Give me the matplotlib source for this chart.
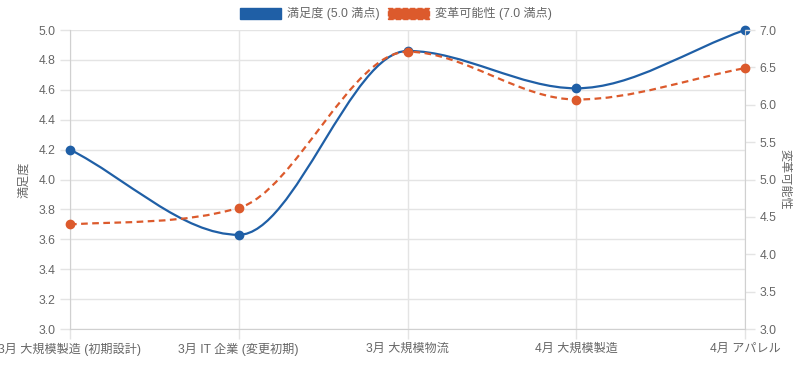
import numpy as np
import matplotlib.pyplot as plt
from matplotlib.path import Path
from matplotlib.patches import PathPatch, Patch

plt.rcParams['font.family'] = ['Liberation Sans', 'Noto Sans CJK JP', 'DejaVu Sans']

categories = ["3月 大規模製造 (初期設計)", "3月 IT 企業 (変更初期)", "3月 大規模物流",
              "4月 大規模製造", "4月 アパレル"]
satisfaction = [4.2, 3.63, 4.86, 4.61, 5.0]
changeability = [4.4, 4.62, 6.71, 6.07, 6.49]

BLUE = "#1f5fa6"
ORANGE = "#dc5a2c"
GRID = "#e4e4e4"
TEXT = "#666666"


def monotone_path(xs, ys):
    # monotone cubic (Fritsch-Carlson) as bezier segments
    xs = np.asarray(xs, float)
    ys = np.asarray(ys, float)
    n = len(xs)
    dk = np.diff(ys) / np.diff(xs)
    mk = np.zeros(n)
    mk[0], mk[-1] = dk[0], dk[-1]
    for i in range(1, n - 1):
        if np.sign(dk[i - 1]) != np.sign(dk[i]):
            mk[i] = 0
        else:
            mk[i] = (dk[i - 1] + dk[i]) / 2
    for i in range(n - 1):
        if dk[i] == 0:
            mk[i] = mk[i + 1] = 0
            continue
        a = mk[i] / dk[i]
        b = mk[i + 1] / dk[i]
        mag = a * a + b * b
        if mag > 9:
            tau = 3 / np.sqrt(mag)
            mk[i] = a * tau * dk[i]
            mk[i + 1] = b * tau * dk[i]
    verts = [(xs[0], ys[0])]
    codes = [Path.MOVETO]
    for i in range(1, n):
        dx = (xs[i] - xs[i - 1]) / 3
        verts += [(xs[i - 1] + dx, ys[i - 1] + dx * mk[i - 1]),
                  (xs[i] - dx, ys[i] - dx * mk[i]),
                  (xs[i], ys[i])]
        codes += [Path.CURVE4] * 3
    return Path(verts, codes)


fig = plt.figure(figsize=(7.96, 3.67), dpi=100)
ax = fig.add_axes([70 / 796, 38 / 367, 675 / 796, 299 / 367])
ax2 = ax.twinx()

x = np.arange(len(categories))

ax.set_xlim(0, len(categories) - 1)
ax.set_ylim(3.0, 5.0)
ax2.set_ylim(3.0, 7.0)
ax.set_yticks(np.arange(3.0, 5.01, 0.2))
ax2.set_yticks(np.arange(3.0, 7.01, 0.5))
ax.yaxis.set_major_formatter(plt.FormatStrFormatter('%.1f'))
ax2.yaxis.set_major_formatter(plt.FormatStrFormatter('%.1f'))
ax.set_xticks(x)
ax.set_xticklabels(categories)

ax.grid(True, color=GRID, linewidth=1)
ax.set_axisbelow(True)
for a in (ax, ax2):
    for s in a.spines.values():
        s.set_visible(False)
    a.tick_params(colors=GRID, labelcolor=TEXT, labelsize=8.7, length=7, width=1)
ax.spines['left'].set_visible(True)
ax.spines['left'].set_color("#d0d0d0")
ax.spines['bottom'].set_visible(True)
ax.spines['bottom'].set_color("#d0d0d0")
ax2.spines['right'].set_visible(True)
ax2.spines['right'].set_color("#d0d0d0")
ax.tick_params(axis='x', pad=3)

ax.set_ylabel("満足度", color=TEXT, fontsize=8.7, labelpad=6)
ax2.set_ylabel("変革可能性", color=TEXT, fontsize=8.7, rotation=-90, labelpad=10)

# satisfaction line (left axis)
ax.add_patch(PathPatch(monotone_path(x, satisfaction), fill=False, edgecolor=BLUE,
                       linewidth=1.6, zorder=3))
ax.plot(x, satisfaction, 'o', color=BLUE, markersize=6, zorder=4, clip_on=False)

# changeability line (right axis)
ax2.add_patch(PathPatch(monotone_path(x, changeability), fill=False, edgecolor=ORANGE,
                        linewidth=1.6, linestyle=(0, (3, 2)), zorder=3))
ax2.plot(x, changeability, 'o', color=ORANGE, markersize=6, zorder=4, clip_on=False)

handles = [
    Patch(facecolor=BLUE, edgecolor=BLUE, label="満足度 (5.0 満点)"),
    Patch(facecolor=ORANGE, edgecolor=ORANGE, linestyle='--', label="変革可能性 (7.0 満点)"),
]
fig.legend(handles=handles, loc='upper center', bbox_to_anchor=(0.497, 1.01), ncol=2,
           frameon=False, fontsize=8.7, handlelength=3.4, handleheight=1.0,
           columnspacing=0.7, handletextpad=0.5, labelcolor=TEXT)

fig.savefig("out.png", dpi=100)
